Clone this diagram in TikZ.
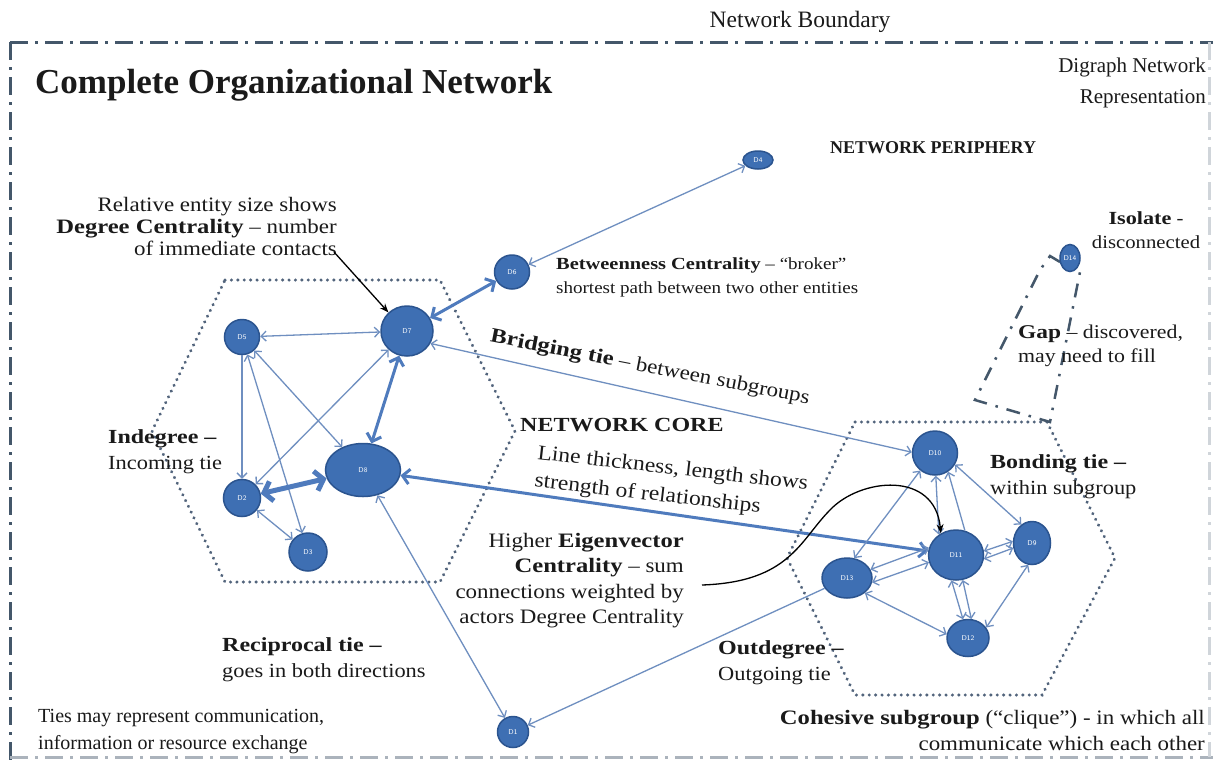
\documentclass[tikz,border=0pt]{standalone}
\usepackage{fontspec}
\setmainfont{Liberation Serif}
\newfontfamily\annfont{Liberation Serif}[FakeStretch=1.12, BoldFeatures={FakeStretch=1.2}]
\usetikzlibrary{arrows.meta,shapes.geometric,calc}
\definecolor{ndf}{HTML}{3E6FB3}
\definecolor{ndb}{HTML}{2B548F}
\definecolor{edc}{HTML}{6F8FC0}
\definecolor{edt}{HTML}{4F7BBD}
\definecolor{hexc}{HTML}{52647C}
\definecolor{bordc}{HTML}{44576A}
\definecolor{txt}{HTML}{1A1A1A}
\begin{document}
\begin{tikzpicture}[x=1pt,y=-1pt,
  nd/.style={ellipse, draw=ndb, fill=ndf, line width=1.5pt, inner sep=0pt, text=white, font=\sffamily\fontsize{7}{7}\selectfont},
  ed/.style={draw=edc, line width=1.3pt, {Straight Barb[length=5pt,width=10pt]}-{Straight Barb[length=5pt,width=10pt]}},
  eo/.style={draw=edc, line width=1.3pt, -{Straight Barb[length=5pt,width=10pt]}},
  et/.style={draw=edt, line width=3pt, {Straight Barb[length=7pt,width=15pt]}-{Straight Barb[length=7pt,width=15pt]}},
  ett/.style={draw=edt, line width=5pt, {Straight Barb[length=8pt,width=20pt]}-{Straight Barb[length=8pt,width=20pt]}},
  blk/.style={draw=black, line width=1.3pt, -{Stealth[length=9pt,width=7pt]}},
  hexst/.style={draw=hexc, line width=3.3pt, line cap=round, dash pattern=on 0.1pt off 6.3pt},
  bordst/.style={draw=bordc, line width=3pt, dash pattern=on 18pt off 7pt on 3pt off 7pt},
  gapst/.style={draw=bordc, line width=2.5pt, dash pattern=on 14pt off 9pt on 2.5pt off 9pt},
  ann/.style={font=\annfont\fontsize{20}{26}\selectfont, inner sep=0pt, text=txt},
  pl/.style={font=\fontsize{20}{27}\selectfont, inner sep=0pt, text=txt}
]
\useasboundingbox (0,0) rectangle (1213,764);
\fill[white] (0,0) rectangle (1213,764);

% network boundary
\draw[bordst] (10,42) -- (1213,42);
\draw[bordst] (10,42) -- (10,764);
\draw[bordst, draw=bordc!45] (10,757) -- (1213,757);
\draw[bordst, draw=bordc!25] (1209,42) -- (1209,757);

% hexagons
\draw[hexst] (225,280) -- (440,280) -- (515,431) -- (440,582) -- (225,582) -- (152,431) -- cycle;
\draw[hexst] (855,422) -- (1047,422) -- (1115,558) -- (1042,695) -- (855,695) -- (787,558) -- cycle;

% gap
\draw[gapst] (1060,262) -- (1050,256) -- (1040,270) -- (975,400) -- (1050,422) -- (1080,272);

% nodes
\node[nd, minimum width=35pt, minimum height=35pt] (D5) at (242,337) {D5};
\node[nd, minimum width=52pt, minimum height=50pt] (D7) at (407,331) {D7};
\node[nd, minimum width=75pt, minimum height=53pt] (D8) at (363,470) {D8};
\node[nd, minimum width=37pt, minimum height=37pt] (D2) at (242,498) {D2};
\node[nd, minimum width=38pt, minimum height=38pt] (D3) at (308,552) {D3};
\node[nd, minimum width=35pt, minimum height=34pt] (D6) at (512,272) {D6};
\node[nd, minimum width=30pt, minimum height=18pt] (D4) at (758,160) {D4};
\node[nd, minimum width=45pt, minimum height=44pt] (D10) at (935,453) {D10};
\node[nd, minimum width=55pt, minimum height=50pt] (D11) at (956,555) {D11};
\node[nd, minimum width=37pt, minimum height=43pt] (D9) at (1032,543) {D9};
\node[nd, minimum width=50pt, minimum height=40pt] (D13) at (847,578) {D13};
\node[nd, minimum width=42pt, minimum height=37pt] (D12) at (968,638) {D12};
\node[nd, minimum width=20pt, minimum height=27pt] (D14) at (1070,258) {D14};
\node[nd, minimum width=31pt, minimum height=31pt] (D1) at (513,732) {D1};

% edges left
\draw[ed] (D5) -- (D7);
\draw[eo] (D5) -- (D2);
\draw[ed] (D7) -- (D2);
\draw[ed] (D5) -- (D8);
\draw[ed] (D5) -- (D3);
\draw[et] (D7) -- (D8);
\draw[ett] (D2) -- (D8);
\draw[ed] (D2) -- (D3);
\draw[et] (D7) -- (D6);
\draw[ed] (D6) -- (D4);
\draw[ed] (D10.178) -- (D7.-28);
\draw[et] (D11) -- (D8);
\draw[ed] (D8) -- (D1);
\draw[eo] (D13) -- (D1);
% edges right
\draw[ed] (D10.-88) -- (D11.130);
\draw[eo] (D11.70) -- (D10.-55);
\draw[ed] (D10.-30) -- (D9.120);
\draw[ed] (D10.-130) -- (D13.70);
\draw[ed] (D11.8) -- (D9.175);
\draw[ed] (D11.-8) -- (D9.-165);
\draw[ed] (D11.165) -- (D13.20);
\draw[ed] (D11.195) -- (D13.-10);
\draw[ed] (D11.-100) -- (D12.105);
\draw[ed] (D11.-75) -- (D12.80);
\draw[ed] (D13.-40) -- (D12.170);
\draw[ed] (D12.30) -- (D9.-100);

% texts
\node[anchor=base, font=\fontsize{23.5}{25}\selectfont, inner sep=0pt, text=txt] (nb) at (800,27) {Network Boundary};
\node[anchor=base west, font=\bfseries\fontsize{35}{38}\selectfont, inner sep=0pt, text=txt] (title) at (35,93) {Complete Organizational Network};
\node[anchor=north east, align=right, font=\fontsize{21}{31}\selectfont, inner sep=0pt, text=txt] (dg) at (1206,58) {Digraph Network\\Representation};
\node[anchor=base west, font=\bfseries\fontsize{18}{20}\selectfont, inner sep=0pt, text=txt] (per) at (830,153) {NETWORK PERIPHERY};
\node[ann, anchor=north east, align=right, font=\annfont\fontsize{20.5}{22}\selectfont] (deg) at (337,197) {Relative entity size shows\\\textbf{Degree Centrality} – number\\of immediate contacts};
\node[ann, anchor=north west, align=left, font=\annfont\fontsize{17}{24}\selectfont] (btw) at (556,257) {\textbf{Betweenness Centrality} – “broker”\\shortest path between two other entities};
\node[ann, rotate=-11, font=\annfont\fontsize{20.5}{26}\selectfont] (brg) at (650,368) {\textbf{Bridging tie} – between subgroups};
\node[ann, anchor=base west] (core) at (520,431) {\textbf{NETWORK CORE}};
\node[ann, rotate=-6.5, anchor=west, align=left, font=\annfont\fontsize{21}{28}\selectfont] (lt) at (536,468) {Line thickness, length shows\\strength of relationships};
\node[ann, anchor=north east, align=right, font=\annfont\fontsize{20.5}{25.5}\selectfont] (eig) at (684,533) {Higher \textbf{Eigenvector}\\\textbf{Centrality} – sum\\connections weighted by\\actors Degree Centrality};
\node[ann, anchor=north west, align=left] (ind) at (108,429) {\textbf{Indegree –}\\Incoming tie};
\node[ann, anchor=north west, align=left] (rec) at (222,637) {\textbf{Reciprocal tie –}\\goes in both directions};
\node[ann, anchor=north west, align=left] (out) at (718,640) {\textbf{Outdegree –}\\Outgoing tie};
\node[pl, anchor=north west, align=left] (ties) at (38,709) {Ties may represent communication,\\information or resource exchange};
\node[ann, anchor=north east, align=right, font=\annfont\fontsize{20.5}{26}\selectfont] (coh) at (1205,710) {\textbf{Cohesive subgroup} (“clique”) - in which all\\communicate which each other};
\node[ann, anchor=north west, align=left] (bond) at (990,454) {\textbf{Bonding tie –}\\within subgroup};
\node[ann, anchor=north, align=center, font=\annfont\fontsize{18.5}{24}\selectfont] (iso) at (1146,211) {\textbf{Isolate} -\\disconnected};
\node[ann, anchor=north west, align=left, font=\annfont\fontsize{19.5}{24}\selectfont] (gap) at (1018,325) {\textbf{Gap} – discovered,\\may need to fill};

% annotation arrows
\coordinate (degarr) at (334,252);
\draw[blk] (degarr) -- (D7.135);
\coordinate (eigarr) at (702,585);
\draw[blk] (eigarr) .. controls (790,582) and (800,540) .. (830,510) .. controls (860,478) and (935,470) .. (D11.125);
\end{tikzpicture}
\end{document}
